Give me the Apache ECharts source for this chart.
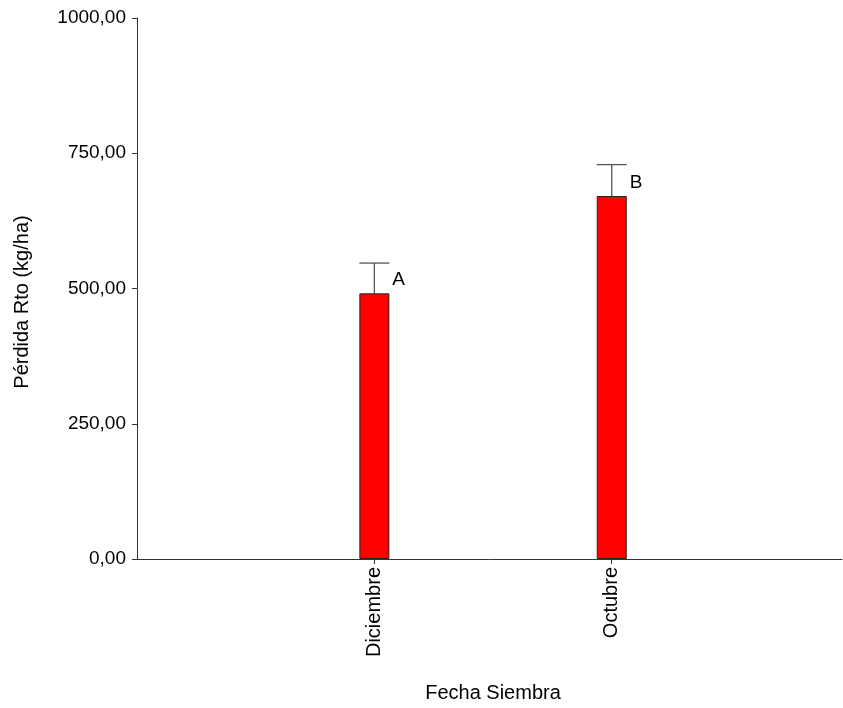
<!DOCTYPE html>
<html>
<head>
<meta charset="utf-8">
<script src="https://cdn.jsdelivr.net/npm/echarts@6/dist/echarts.min.js"></script>
<style>html,body{margin:0;padding:0;background:#fff}#c{width:843px;height:708px}</style>
</head>
<body>
<div id="c"></div>
<script>
var categories = ["Diciembre", "Octubre"];
var means = [491, 671];
var errorTops = [547, 729];
var letters = ["A", "B"];
var yTicks = [0, 250, 500, 750, 1000];
var yAxisTitle = "Pérdida Rto (kg/ha)";
var xAxisTitle = "Fecha Siembra";

var FONT = "'Liberation Sans', Arial, sans-serif";
var chart = echarts.init(document.getElementById('c'), null, {renderer: 'canvas'});

var barData = means.map(function (v, i) { return [i, v]; });
var errData = means.map(function (v, i) { return [i, v, errorTops[i]]; });

var option = {
  animation: false,
  backgroundColor: '#fff',
  grid: {left: 137, right: 1, top: 18, bottom: 149, containLabel: false},
  xAxis: {
    type: 'value',
    min: -1, max: 1.97,
    splitLine: {show: false},
    axisLine: {onZero: false, lineStyle: {color: '#333', width: 1}},
    axisTick: {show: true, length: 5, inside: false, customValues: [0, 1], lineStyle: {color: '#333'}},
    axisLabel: {
      customValues: [0, 1],
      rotate: 90, margin: 8,
      fontFamily: FONT, fontSize: 20, color: '#000',
      formatter: function (v) { return categories[Math.round(v)] || ''; }
    }
  },
  yAxis: {
    type: 'value',
    min: yTicks[0], max: yTicks[yTicks.length - 1], interval: 250,
    splitLine: {show: false},
    axisLine: {show: true, onZero: false, lineStyle: {color: '#333', width: 1}},
    axisTick: {show: true, length: 5, lineStyle: {color: '#333'}},
    axisLabel: {
      margin: 11, fontFamily: FONT, fontSize: 19, color: '#000',
      formatter: function (v) { return v.toFixed(2).replace('.', ','); }
    }
  },
  graphic: [
    {type: 'text', x: 22, y: 302, rotation: Math.PI / 2,
     style: {text: yAxisTitle, font: '20px ' + FONT, fill: '#000', align: 'center', verticalAlign: 'middle'}},
    {type: 'text', x: 493, y: 693,
     style: {text: xAxisTitle, font: '20px ' + FONT, fill: '#000', align: 'center', verticalAlign: 'middle'}}
  ],
  series: [
    {
      type: 'bar',
      data: barData,
      barWidth: 30,
      itemStyle: {color: '#ff0000', borderColor: '#222', borderWidth: 1},
      z: 2
    },
    {
      type: 'custom',
      data: errData,
      encode: {x: 0, y: [1, 2]},
      z: 1,
      renderItem: function (params, api) {
        var x = api.value(0), lo = api.value(1), hi = api.value(2);
        var pLo = api.coord([x, lo]);
        var pHi = api.coord([x, hi]);
        var mid = api.coord([x, (lo + hi) / 2]);
        var st = {stroke: '#555', lineWidth: 1.3};
        return {
          type: 'group',
          children: [
            {type: 'line', shape: {x1: pLo[0], y1: pLo[1], x2: pHi[0], y2: pHi[1]}, style: st},
            {type: 'line', shape: {x1: pHi[0] - 15, y1: pHi[1], x2: pHi[0] + 15, y2: pHi[1]}, style: st},
            {type: 'text', x: pLo[0] + 18, y: mid[1] + 2,
             style: {text: letters[params.dataIndex], font: '19px ' + FONT, fill: '#000', align: 'left', verticalAlign: 'middle'}}
          ]
        };
      }
    }
  ]
};
chart.setOption(option);
</script>
</body>
</html>
